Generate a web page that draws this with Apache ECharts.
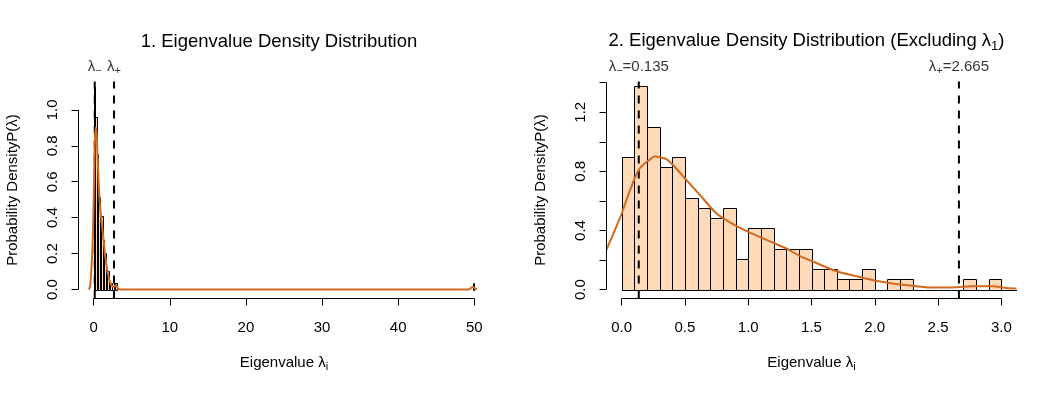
<!DOCTYPE html>
<html><head><meta charset="utf-8">
<script src="https://cdn.jsdelivr.net/npm/echarts@6/dist/echarts.min.js"></script>
<style>html,body{margin:0;padding:0;background:#fff}#c{width:1056px;height:396px}</style>
</head><body><div id="c"></div>
<script>
const FONT = '"Liberation Sans", Arial, sans-serif';
const PEACH = '#FFDAB9';
const CHOC = '#D2691E';

// ---- Panel 1 (all eigenvalues) ----
const leftXTicks = [0, 10, 20, 30, 40, 50];
const leftYTicks = [0, 0.2, 0.4, 0.6, 0.8, 1.0];
const leftBinLo = [0, 0.2, 0.4, 0.6, 0.8, 1.0, 1.2, 1.4, 1.6, 1.8, 2.0, 2.2, 2.4, 2.6, 2.8, 49.8];
const leftBinHi = [0.2, 0.4, 0.6, 0.8, 1.0, 1.2, 1.4, 1.6, 1.8, 2.0, 2.2, 2.4, 2.6, 2.8, 3.0, 50.0];
const leftDensity = [1.13, 0.959, 0.753, 0.514, 0.377, 0.411, 0.274, 0.205, 0.103, 0.103, 0.034, 0.034, 0, 0.034, 0.034, 0.034];
const leftCurveX = [-0.62, -0.45, -0.3, -0.15, 0, 0.13, 0.26, 0.36, 0.5, 0.75, 1.0, 1.33, 1.5, 1.9, 2.3, 2.65, 2.93, 3.2, 3.5, 49.2, 49.5, 49.8, 50.1, 50.35];
const leftCurveY = [0, 0.03, 0.12, 0.25, 0.51, 0.8, 0.9, 0.88, 0.75, 0.51, 0.39, 0.265, 0.19, 0.08, 0.025, 0.016, 0.023, 0.006, 0, 0, 0.006, 0.015, 0.006, 0];

// ---- Panel 2 (excluding lambda_1) ----
const rightXTicks = [0, 0.5, 1.0, 1.5, 2.0, 2.5, 3.0];
const rightYTicks = [0, 0.2, 0.4, 0.6, 0.8, 1.0, 1.2, 1.4];
const rightYLabelTicks = [0, 0.4, 0.8, 1.2];
const rightBreaks = [0, 0.1, 0.2, 0.3, 0.4, 0.5, 0.6, 0.7, 0.8, 0.9, 1.0, 1.1, 1.2, 1.3, 1.4, 1.5, 1.6, 1.7, 1.8, 1.9, 2.0, 2.1, 2.2, 2.3, 2.4, 2.5, 2.6, 2.7, 2.8, 2.9, 3.0, 3.1, 3.2];
const rightDensity = [0.897, 1.379, 1.103, 0.828, 0.897, 0.621, 0.552, 0.483, 0.552, 0.207, 0.414, 0.414, 0.276, 0.276, 0.276, 0.138, 0.138, 0.069, 0.069, 0.138, 0, 0.069, 0.069, 0, 0, 0, 0, 0.069, 0, 0.069, 0, 0];
const rightCurveX = [-0.12, -0.06, 0, 0.066, 0.132, 0.17, 0.22, 0.264, 0.3, 0.356, 0.42, 0.5, 0.62, 0.75, 0.88, 1.0, 1.2, 1.33, 1.41, 1.5, 1.7, 1.9, 2.1, 2.3, 2.4, 2.52, 2.65, 2.76, 2.93, 3.04, 3.12];
const rightCurveY = [0.27, 0.39, 0.515, 0.673, 0.808, 0.845, 0.878, 0.903, 0.895, 0.881, 0.83, 0.752, 0.639, 0.515, 0.443, 0.391, 0.316, 0.266, 0.226, 0.194, 0.124, 0.081, 0.047, 0.025, 0.016, 0.014, 0.016, 0.023, 0.023, 0.011, 0.007];

const lambdaMinus = 0.135;
const lambdaPlus = 2.665;

const titles = ['1. Eigenvalue Density Distribution', '2. Eigenvalue Density Distribution (Excluding λ', '1', ')'];

const AX = [
  {xmin: -2, xmax: 52, ymin: -0.05, ymax: 1.158},
  {xmin: -0.12, xmax: 3.12, ymin: -0.06, ymax: 1.408}
];

const richText = {
  a: {fontSize: 15, fontFamily: FONT, color: '#000', lineHeight: 20, fontWeight: 'normal'},
  s: {fontSize: 11, fontFamily: FONT, color: '#000', lineHeight: 11, verticalAlign: 'bottom', fontWeight: 'normal'}
};

function histSeries(idx, data) {
  return {
    type: 'custom', xAxisIndex: idx, yAxisIndex: idx, clip: true, silent: true, z: 2,
    data: data,
    renderItem: function (params, api) {
      const p0 = api.coord([api.value(0), api.value(2)]);
      const p1 = api.coord([api.value(1), 0]);
      const x0 = Math.round(p0[0]) + 0.5, x1 = Math.round(p1[0]) + 0.5;
      const y0 = Math.round(p0[1]) + 0.5, y1 = Math.round(p1[1]) + 0.5;
      if (api.value(2) === 0) {
        return {type: 'line', shape: {x1: x0, y1: y1, x2: x1, y2: y1}, style: {stroke: '#000', lineWidth: 1}};
      }
      return {type: 'rect', shape: {x: x0, y: y0, width: x1 - x0, height: y1 - y0},
        style: {fill: PEACH, stroke: '#000', lineWidth: 1}};
    }
  };
}

function vline(idx, x) {
  const a = AX[idx];
  return {
    type: 'line', xAxisIndex: idx, yAxisIndex: idx, clip: false, silent: true, z: 3,
    symbol: 'none', animation: false,
    lineStyle: {color: '#000', width: 2, type: [8, 7]},
    data: [[x, a.ymin], [x, a.ymax]]
  };
}

function vlineLabels(idx, xs, texts) {
  const a = AX[idx];
  return {
    type: 'scatter', xAxisIndex: idx, yAxisIndex: idx, clip: false, silent: true, z: 6,
    symbol: 'circle', symbolSize: 2, itemStyle: {color: 'rgba(0,0,0,0)'}, animation: false,
    labelLayout: {hideOverlap: false},
    label: {show: true, position: 'top', distance: 4, color: '#000', formatter: p => texts[p.dataIndex], rich: richText},
    data: xs.map(x => [x, a.ymax])
  };
}

function curveSeries(idx, xs, ys) {
  return {
    type: 'line', xAxisIndex: idx, yAxisIndex: idx, clip: true, silent: true, z: 4,
    symbol: 'none', smooth: 0.3, animation: false,
    lineStyle: {color: CHOC, width: 2},
    data: xs.map((x, i) => [x, ys[i]])
  };
}

function axisLines(idx, xt, yt) {
  const a = AX[idx];
  const st = {color: '#000', width: 1};
  return [
    {type: 'line', xAxisIndex: idx, yAxisIndex: idx, clip: false, silent: true, symbol: 'none', animation: false, z: 5,
      lineStyle: st, data: [[xt[0], a.ymin], [xt[xt.length - 1], a.ymin]]},
    {type: 'line', xAxisIndex: idx, yAxisIndex: idx, clip: false, silent: true, symbol: 'none', animation: false, z: 5,
      lineStyle: st, data: [[a.xmin, yt[0]], [a.xmin, yt[yt.length - 1]]]}
  ];
}

function xAxisCfg(idx, ticks, fmt) {
  const a = AX[idx];
  return {
    type: 'value', gridIndex: idx, min: a.xmin, max: a.xmax,
    axisLine: {show: false, onZero: false},
    axisTick: {show: true, customValues: ticks, length: 7, lineStyle: {color: '#000', width: 1}},
    axisLabel: {customValues: ticks, margin: 22, fontSize: 15, fontFamily: FONT, color: '#000', formatter: fmt},
    splitLine: {show: false},
    name: '{a|Eigenvalue λ}{s|i}', nameLocation: 'middle', nameGap: 54,
    nameTextStyle: {rich: richText}
  };
}

function yAxisCfg(idx, ticks, labelTicks) {
  const a = AX[idx];
  return {
    type: 'value', gridIndex: idx, min: a.ymin, max: a.ymax,
    axisLine: {show: false, onZero: false},
    axisTick: {show: true, customValues: ticks, length: 7, lineStyle: {color: '#000', width: 1}},
    axisLabel: {customValues: labelTicks, rotate: 90, margin: 18, fontSize: 15, fontFamily: FONT, color: '#000',
      formatter: v => v.toFixed(1)},
    splitLine: {show: false},
    name: 'Probability DensityP(λ)', nameLocation: 'middle', nameGap: 58,
    nameTextStyle: {fontSize: 15, fontFamily: FONT, color: '#000'}
  };
}

const chart = echarts.init(document.getElementById('c'), null, {renderer: 'canvas'});
chart.setOption({
  animation: false,
  backgroundColor: '#fff',
  title: [
    {text: titles[0], left: 274, top: 27, textAlign: 'center',
      textStyle: {fontSize: 18.5, fontWeight: 'normal', fontFamily: FONT, color: '#000'}},
    {text: '{t|' + titles[1] + '}{u|' + titles[2] + '}{t|' + titles[3] + '}', left: 801.5, top: 24, textAlign: 'center',
      textStyle: {fontWeight: 'normal', rich: {
        t: {fontSize: 18.5, fontFamily: FONT, color: '#000', lineHeight: 24, fontWeight: 'normal'},
        u: {fontSize: 13, fontFamily: FONT, color: '#000', lineHeight: 13, verticalAlign: 'bottom', fontWeight: 'normal'}
      }}}
  ],
  grid: [
    {left: 78.5, top: 81.5, width: 411, height: 217},
    {left: 606.5, top: 81.5, width: 410, height: 217}
  ],
  xAxis: [xAxisCfg(0, leftXTicks, v => String(v)), xAxisCfg(1, rightXTicks, v => v.toFixed(1))],
  yAxis: [yAxisCfg(0, leftYTicks, leftYTicks), yAxisCfg(1, rightYTicks, rightYLabelTicks)],
  series: [
    histSeries(0, leftBinLo.map((lo, i) => [lo, leftBinHi[i], leftDensity[i]])),
    vline(0, lambdaMinus),
    vline(0, lambdaPlus),
    vlineLabels(0, [lambdaMinus, lambdaPlus], ['{a|λ}{s|−}', '{a|λ}{s|+}']),
    curveSeries(0, leftCurveX, leftCurveY),
    ...axisLines(0, leftXTicks, leftYTicks),
    histSeries(1, rightDensity.map((d, i) => [rightBreaks[i], rightBreaks[i + 1], d])),
    vline(1, lambdaMinus),
    vline(1, lambdaPlus),
    vlineLabels(1, [lambdaMinus, lambdaPlus], ['{a|λ}{s|−}{a|=' + lambdaMinus.toFixed(3) + '}', '{a|λ}{s|+}{a|=' + lambdaPlus.toFixed(3) + '}']),
    curveSeries(1, rightCurveX, rightCurveY),
    ...axisLines(1, rightXTicks, rightYTicks)
  ]
});
</script></body></html>
